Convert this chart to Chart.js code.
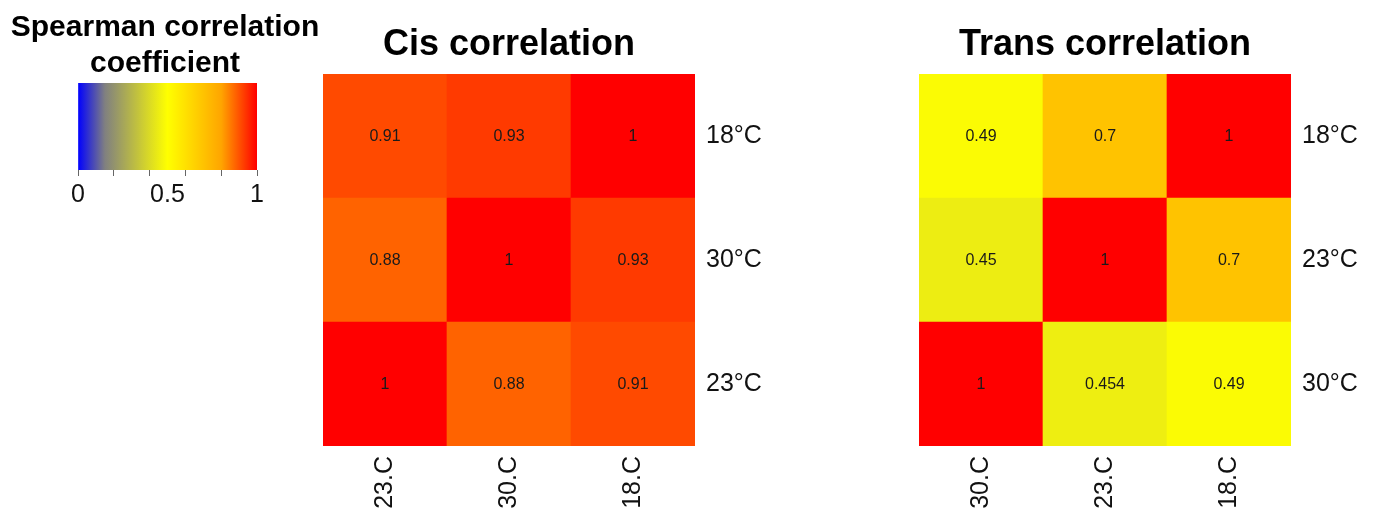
<!DOCTYPE html>
<html>
<head>
<meta charset="utf-8">
<script src="https://cdn.jsdelivr.net/npm/chart.js@4.4.0/dist/chart.umd.min.js"></script>
<style>
  html, body { margin: 0; padding: 0; background: #fff; }
  #wrap { position: relative; width: 1378px; height: 515px; overflow: hidden; background: #fff; }
  canvas { position: absolute; top: 0; }
</style>
</head>
<body>
<div id="wrap">
  <canvas id="legend" width="330" height="215" style="left:0px"></canvas>
  <canvas id="cis" width="480" height="515" style="left:300px"></canvas>
  <canvas id="trans" width="480" height="515" style="left:896px"></canvas>
</div>
<script>
// ---------- data ----------
const legendTitle = ['Spearman correlation', 'coefficient'];
const legendTickValues = [0, 0.2, 0.4, 0.5, 0.6, 0.8, 1];
const legendLabelValues = [0, 0.5, 1];

const cisTitle = 'Cis correlation';
const cisColumns = ['23.C', '30.C', '18.C'];
const cisRows = ['23°C', '30°C', '18°C'];          // bottom -> top
const cisRow23 = [1, 0.88, 0.91];
const cisRow30 = [0.88, 1, 0.93];
const cisRow18 = [0.91, 0.93, 1];

const transTitle = 'Trans correlation';
const transColumns = ['30.C', '23.C', '18.C'];
const transRows = ['30°C', '23°C', '18°C'];        // bottom -> top
const transRow30 = [1, 0.454, 0.49];
const transRow23 = [0.45, 1, 0.7];
const transRow18 = [0.49, 0.7, 1];

// ---------- colour scale ----------
const colorStops = [
  [0.00, [0, 0, 255]],
  [0.15, [128, 128, 128]],
  [0.50, [255, 255, 0]],
  [0.80, [255, 165, 0]],
  [1.00, [255, 0, 0]]
];
function colorFor(v) {
  for (let i = 0; i < colorStops.length - 1; i++) {
    const [a, ca] = colorStops[i], [b, cb] = colorStops[i + 1];
    if (v <= b) {
      const t = (v - a) / (b - a);
      const c = ca.map((x, k) => Math.round(x + (cb[k] - x) * t));
      return `rgb(${c[0]},${c[1]},${c[2]})`;
    }
  }
  const c = colorStops[colorStops.length - 1][1];
  return `rgb(${c[0]},${c[1]},${c[2]})`;
}

const FONT = '"Liberation Sans", Arial, Helvetica, sans-serif';
Chart.defaults.font.family = FONT;
Chart.defaults.color = '#111';
Chart.defaults.animation = false;

// title drawn centred over the plot area
const plotTitlePlugin = {
  id: 'plotTitle',
  afterDraw(chart, args, opts) {
    if (!opts || !opts.lines) return;
    const ctx = chart.ctx;
    ctx.save();
    ctx.font = `bold ${opts.size}px ${FONT}`;
    ctx.fillStyle = '#000';
    ctx.textAlign = 'center';
    ctx.textBaseline = 'alphabetic';
    const cx = opts.x != null ? opts.x : (chart.chartArea.left + chart.chartArea.right) / 2;
    opts.lines.forEach((t, i) => ctx.fillText(t, cx, opts.baselines[i]));
    ctx.restore();
  }
};

// value text in the centre of each cell
const cellTextPlugin = {
  id: 'cellText',
  afterDatasetsDraw(chart) {
    const ctx = chart.ctx;
    ctx.save();
    ctx.font = `16px ${FONT}`;
    ctx.fillStyle = '#1a1a1a';
    ctx.textAlign = 'center';
    ctx.textBaseline = 'middle';
    chart.data.datasets.forEach((ds, di) => {
      if (!ds.cellValues) return;
      const meta = chart.getDatasetMeta(di);
      meta.data.forEach((bar, i) => {
        const p = bar.getProps(['x', 'y', 'base'], true);
        ctx.fillText(String(ds.cellValues[i]), p.x, (p.y + p.base) / 2 + 1);
      });
    });
    ctx.restore();
  }
};

// ---------- legend ----------
new Chart(document.getElementById('legend'), {
  type: 'bar',
  data: {
    labels: [''],
    datasets: [{
      data: [[0, 1]],
      barPercentage: 1,
      categoryPercentage: 1,
      borderWidth: 0,
      backgroundColor(ctx) {
        const area = ctx.chart.chartArea;
        if (!area) return 'red';
        const g = ctx.chart.ctx.createLinearGradient(area.left, 0, area.right, 0);
        colorStops.forEach(([s, c]) => g.addColorStop(s, `rgb(${c[0]},${c[1]},${c[2]})`));
        return g;
      }
    }]
  },
  options: {
    indexAxis: 'y',
    responsive: false,
    events: [],
    layout: { padding: { left: 78, right: 73, top: 83, bottom: 0 } },
    plugins: {
      legend: { display: false },
      tooltip: { enabled: false },
      plotTitle: { lines: legendTitle, size: 30, x: 165, baselines: [36, 72] }
    },
    scales: {
      y: { display: false },
      x: {
        type: 'linear', min: 0, max: 1,
        afterBuildTicks(scale) { scale.ticks = legendTickValues.map(v => ({ value: v })); },
        afterFit(scale) { scale.height = 45; },
        border: { display: false },
        grid: {
          drawOnChartArea: false, drawTicks: true, tickLength: 6, tickWidth: 1,
          tickColor(ctx) { return ctx.tick && ctx.tick.value === 0.5 ? 'rgba(0,0,0,0)' : '#666'; }
        },
        ticks: {
          autoSkip: false, padding: 4, color: '#111',
          minRotation: 0, maxRotation: 0,
          font: { size: 25 },
          callback(v) { return legendLabelValues.includes(v) ? String(v) : ''; }
        }
      }
    }
  },
  plugins: [plotTitlePlugin]
});

// ---------- heatmaps ----------
function heatmap(id, title, columns, rows, rowValues) {
  const datasets = rowValues.map((vals, r) => ({
    data: vals.map(() => [r, r + 1]),
    cellValues: vals,
    backgroundColor: vals.map(colorFor),
    borderWidth: 0,
    barPercentage: 1,
    categoryPercentage: 1,
    grouped: false
  }));
  new Chart(document.getElementById(id), {
    type: 'bar',
    data: { labels: columns, datasets },
    options: {
      responsive: false,
      events: [],
      layout: { padding: { left: 23, right: 5, top: 74, bottom: 1 } },
      plugins: {
        legend: { display: false },
        tooltip: { enabled: false },
        plotTitle: { lines: [title], size: 36, baselines: [55] }
      },
      scales: {
        x: {
          type: 'category',
          grid: { display: false, drawTicks: false },
          border: { display: false },
          afterFit(scale) { scale.height = 68; },
          ticks: {
            minRotation: 90, maxRotation: 90, padding: 10, autoSkip: false,
            color: '#111', font: { size: 25 }
          }
        },
        y: {
          type: 'linear', position: 'right', min: 0, max: 3,
          grid: { display: false, drawTicks: false },
          border: { display: false },
          afterBuildTicks(scale) { scale.ticks = rows.map((_, i) => ({ value: i + 0.5 })); },
          afterFit(scale) { scale.width = 80; },
          ticks: {
            padding: 11, autoSkip: false, color: '#111', font: { size: 25 },
            callback(v, i) { return rows[i]; }
          }
        }
      }
    },
    plugins: [cellTextPlugin, plotTitlePlugin]
  });
}

heatmap('cis', cisTitle, cisColumns, cisRows, [cisRow23, cisRow30, cisRow18]);
heatmap('trans', transTitle, transColumns, transRows, [transRow30, transRow23, transRow18]);
</script>
</body>
</html>
